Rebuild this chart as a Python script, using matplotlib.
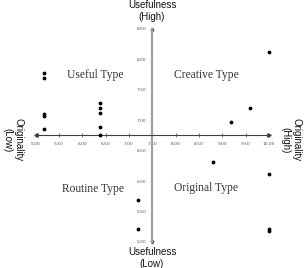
import matplotlib
matplotlib.use('Agg')
import matplotlib.pyplot as plt

# originality (x) and usefulness (y) scores
originality = [5.19, 5.19, 5.19, 5.19, 5.19,
               6.38, 6.38, 6.38, 6.38, 6.38,
               10.0, 9.60, 9.19,
               8.80, 10.0, 10.0, 10.0,
               7.20, 7.20]
usefulness = [7.78, 7.70, 7.11, 7.07, 6.85,
              7.28, 7.21, 7.12, 6.89, 6.76,
              8.12, 7.21, 6.97,
              6.31, 6.11, 5.22, 5.18,
              5.69, 5.22]

x_ticks = [5.0, 5.5, 6.0, 6.5, 7.0, 7.5, 8.0, 8.5, 9.0, 9.5, 10.0]
y_ticks = [5.0, 5.5, 6.0, 6.5, 7.0, 7.5, 8.0, 8.5]
quadrants = ['Useful Type', 'Creative Type', 'Routine Type', 'Original Type']

W, H = 306, 268
fig = plt.figure(figsize=(W / 100, H / 100), dpi=100)
ax = fig.add_axes([35.5 / W, (H - 242) / H, (269 - 35.5) / W, (242 - 29) / H])

ax.set_xlim(5, 10)
ax.set_ylim(5, 8.5)
ax.spines['top'].set_visible(False)
ax.spines['right'].set_visible(False)
ax.spines['left'].set_position(('data', 7.5))
ax.spines['bottom'].set_position(('data', 6.75))
ax.spines['left'].set_color('#a0a0a0')
ax.spines['left'].set_linewidth(1.6)
ax.spines['bottom'].set_color('#404040')
ax.spines['bottom'].set_linewidth(0.8)

ax.set_xticks(x_ticks)
ax.set_xticklabels(['%.2f' % v for v in x_ticks])
ax.set_yticks(y_ticks)
ax.set_yticklabels(['%.2f' % v for v in y_ticks])
ax.tick_params(axis='x', direction='inout', length=3, width=0.5, color='#404040',
               labelsize=3.2, labelcolor='#555555', pad=3)
ax.tick_params(axis='y', length=0, labelsize=3.2, labelcolor='#555555', pad=4)

# axis end markers
ax.plot([5.0], [6.75], marker='<', ms=2.5, color='#404040', clip_on=False)
ax.plot([10.0], [6.75], marker='>', ms=2.5, color='#404040', clip_on=False)
ax.plot([7.5], [8.5], marker='^', ms=2, color='#404040', clip_on=False)
ax.plot([7.5], [5.0], marker='v', ms=2, color='#404040', clip_on=False)

ax.scatter(originality, usefulness, s=3, color='black', zorder=5, clip_on=False)

qpos = [(6.27, 7.75), (8.66, 7.75), (6.23, 5.87), (8.66, 5.88)]
for (qx, qy), label in zip(qpos, quadrants):
    ax.text(qx, qy, label, ha='center', va='center', family='Liberation Serif',
            fontsize=8.3, color='#333333')

sans = dict(family='Liberation Sans', fontsize=7, color='#111111',
            ha='center', va='center', linespacing=1.15)
fig.text(152 / W, 1 - 11 / H, 'Usefulness\n(High)', **sans)
fig.text(152 / W, 1 - 258 / H, 'Usefulness\n(Low)', **sans)
fig.text(13 / W, 1 - 140 / H, 'Originality\n(Low)', rotation=-90, **sans)
fig.text(291 / W, 1 - 140 / H, 'Originality\n(High)', rotation=-90, **sans)

fig.savefig('out.png', dpi=100)
